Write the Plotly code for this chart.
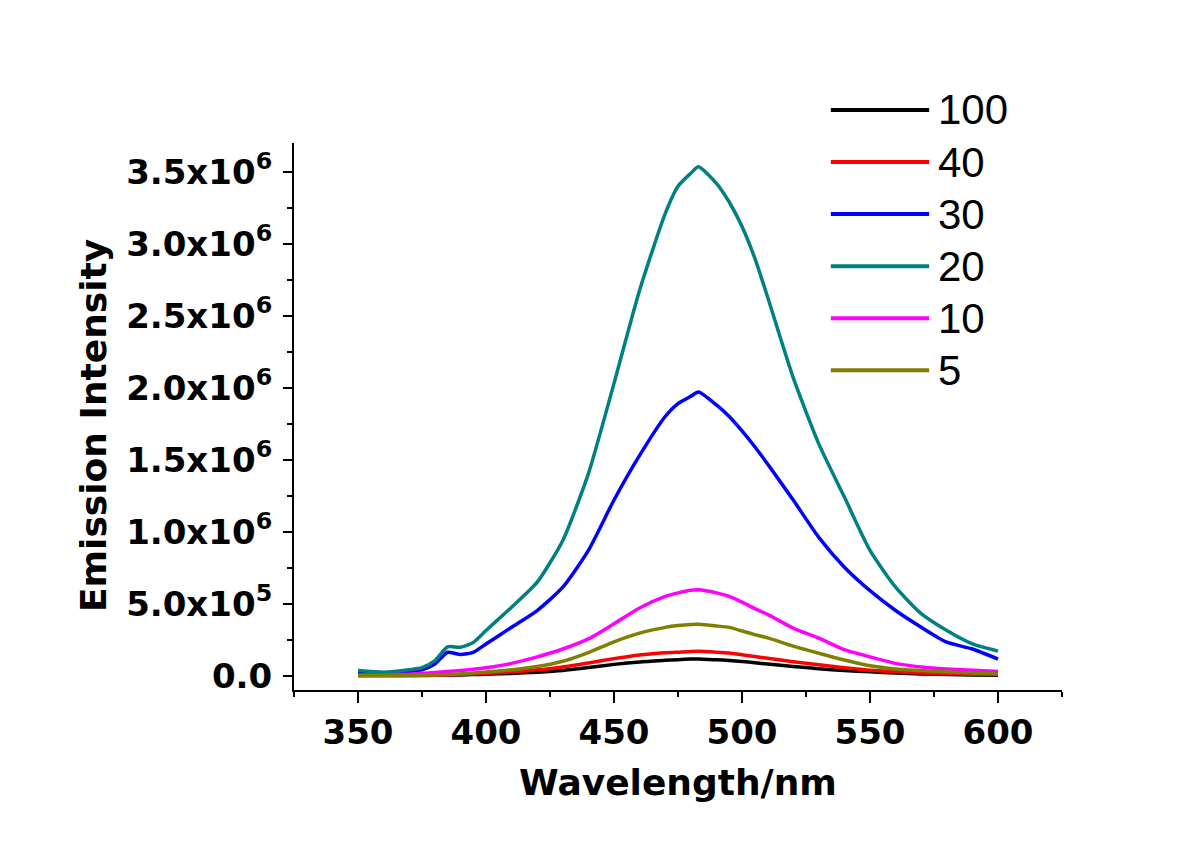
import plotly.graph_objects as go

# emission spectra at different concentrations (intensity in units of 1e6)
wavelength = [350, 360, 370, 375, 380, 385, 390, 395, 400, 410, 420, 430, 440,
              450, 460, 470, 475, 480, 483, 490, 495, 500, 505, 510, 520, 530,
              540, 550, 560, 570, 580, 590, 600]

i_100 = [0.0, 0.0, 0.0, 0.001, 0.002, 0.003, 0.005, 0.007, 0.010, 0.015, 0.024, 0.036, 0.056,
         0.078, 0.095, 0.106, 0.111, 0.115, 0.116, 0.110, 0.105, 0.098, 0.090, 0.080, 0.064, 0.048,
         0.035, 0.026, 0.018, 0.012, 0.008, 0.005, 0.003]
i_40 = [0.0, 0.0, 0.001, 0.002, 0.003, 0.005, 0.008, 0.011, 0.015, 0.025, 0.040, 0.060, 0.088,
        0.118, 0.143, 0.158, 0.163, 0.168, 0.169, 0.163, 0.157, 0.145, 0.132, 0.120, 0.097, 0.075,
        0.055, 0.038, 0.026, 0.018, 0.012, 0.010, 0.008]
i_30 = [0.020, 0.015, 0.030, 0.040, 0.080, 0.162, 0.146, 0.162, 0.220, 0.336, 0.452, 0.614, 0.870,
        1.22, 1.53, 1.80, 1.89, 1.94, 1.97, 1.88, 1.80, 1.70, 1.59, 1.47, 1.22, 0.96,
        0.753, 0.590, 0.452, 0.336, 0.232, 0.185, 0.115]
i_20 = [0.035, 0.023, 0.040, 0.055, 0.104, 0.200, 0.197, 0.230, 0.313, 0.475, 0.649, 0.939, 1.403,
        2.03, 2.677, 3.21, 3.40, 3.49, 3.535, 3.42, 3.29, 3.12, 2.90, 2.63, 2.07, 1.61,
        1.24, 0.87, 0.614, 0.43, 0.313, 0.22, 0.17]
i_10 = [0.005, 0.005, 0.010, 0.015, 0.022, 0.028, 0.035, 0.044, 0.055, 0.085, 0.130, 0.185, 0.255,
        0.360, 0.470, 0.550, 0.575, 0.593, 0.596, 0.575, 0.550, 0.510, 0.465, 0.425, 0.330, 0.260,
        0.180, 0.130, 0.085, 0.060, 0.046, 0.038, 0.028]
i_5 = [0.0, 0.0, 0.002, 0.003, 0.005, 0.008, 0.012, 0.018, 0.025, 0.040, 0.063, 0.100, 0.160,
       0.235, 0.295, 0.335, 0.348, 0.355, 0.356, 0.345, 0.335, 0.310, 0.285, 0.262, 0.205, 0.155,
       0.108, 0.068, 0.046, 0.035, 0.025, 0.018, 0.012]

labels = ["100", "40", "30", "20", "10", "5"]
series = [i_100, i_40, i_30, i_20, i_10, i_5]
colors = ["#000000", "#FF0000", "#0000FF", "#008080", "#FF00FF", "#808000"]

y_tickvals = [0, 0.5e6, 1.0e6, 1.5e6, 2.0e6, 2.5e6, 3.0e6, 3.5e6]
y_ticktext = ["0.0", "5.0x10<sup>5</sup>", "1.0x10<sup>6</sup>", "1.5x10<sup>6</sup>",
              "2.0x10<sup>6</sup>", "2.5x10<sup>6</sup>", "3.0x10<sup>6</sup>", "3.5x10<sup>6</sup>"]

BOLD = dict(family="DejaVu Sans", size=34, color="black", weight="bold")

fig = go.Figure()
for name, vals, col in zip(labels, series, colors):
    fig.add_trace(go.Scatter(
        x=wavelength, y=[v * 1e6 for v in vals],
        mode="lines", name=name, showlegend=False,
        line=dict(color=col, width=3.5, shape="spline", smoothing=0.6),
    ))

# legend drawn by hand so the line samples are as long as in the original
shapes = []
annotations = []
for k, (name, col) in enumerate(zip(labels, colors)):
    yy = 1.0604 - k * 0.0952
    shapes.append(dict(type="line", xref="paper", yref="paper",
                       x0=0.699, x1=0.827, y0=yy, y1=yy,
                       line=dict(color=col, width=4)))
    annotations.append(dict(xref="paper", yref="paper", x=0.836, y=yy,
                            text=name, showarrow=False, xanchor="left", yanchor="middle",
                            font=dict(family="Liberation Sans, Arial", size=42, color="black")))

annotations.append(dict(xref="paper", yref="paper", x=0.5, y=-0.17,
                        text="Wavelength/nm", showarrow=False,
                        xanchor="center", yanchor="middle",
                        font=dict(BOLD, size=36)))
annotations.append(dict(xref="paper", yref="paper", x=-0.262, y=0.484,
                        text="Emission Intensity", showarrow=False, textangle=-90,
                        xanchor="center", yanchor="middle",
                        font=dict(BOLD, size=36)))

# the page body adds an 8px offset, so the margins are shifted to compensate
fig.update_layout(
    width=1200, height=847,
    margin=dict(l=286, r=146, t=135, b=165),
    paper_bgcolor="white", plot_bgcolor="white",
    shapes=shapes, annotations=annotations,
    xaxis=dict(
        range=[325, 625], tickvals=[350, 400, 450, 500, 550, 600],
        showline=True, linecolor="black", linewidth=2,
        ticks="outside", ticklen=11, tickwidth=2, tickcolor="black",
        minor=dict(ticks="outside", ticklen=5, tickwidth=2, tickcolor="black", dtick=25),
        showgrid=False, zeroline=False, tickfont=BOLD,
    ),
    yaxis=dict(
        range=[-1.0e5, 3.7e6], tickvals=y_tickvals, ticktext=y_ticktext,
        showline=True, linecolor="black", linewidth=2,
        ticks="outside", ticklen=9, tickwidth=2, tickcolor="black",
        minor=dict(ticks="outside", ticklen=5, tickwidth=2, tickcolor="black",
                   tickvals=[0.25e6, 0.75e6, 1.25e6, 1.75e6, 2.25e6, 2.75e6, 3.25e6]),
        showgrid=False, zeroline=False, tickfont=BOLD, ticklabelstandoff=4,
    ),
)

fig.write_html("out.html")
